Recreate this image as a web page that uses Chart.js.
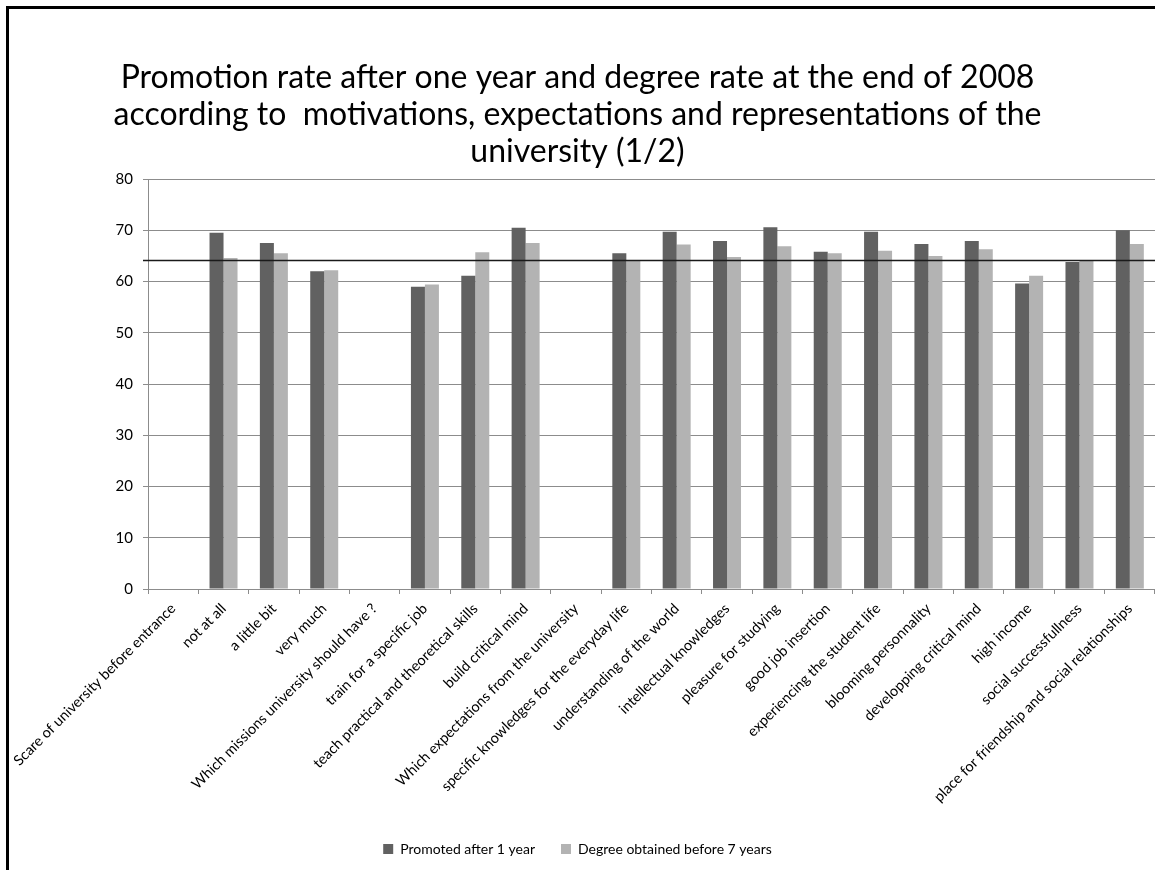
<!DOCTYPE html>
<html>
<head>
<meta charset="utf-8">
<script src="https://cdn.jsdelivr.net/npm/chart.js@4.4.1/dist/chart.umd.min.js"></script>
<style>
  html, body { margin: 0; padding: 0; background: #fff; }
  #wrap { position: relative; width: 1155px; height: 870px; }
</style>
</head>
<body>
<div id="wrap"><canvas id="PromotionChart" width="1155" height="870"></canvas></div>
<script>
// categories (x axis)
const categories = [
  "Scare of university before entrance",
  "not at all",
  "a little bit",
  "very much",
  "Which missions university should have ?",
  "train for a specific job",
  "teach practical and theoretical skills",
  "build critical mind",
  "Which expectations from the university",
  "specific knowledges for the everyday life",
  "understanding of the world",
  "intellectual knowledges",
  "pleasure for studying",
  "good job insertion",
  "experiencing the student life",
  "blooming personnality",
  "developping critical mind",
  "high income",
  "social successfullness",
  "place for friendship and social relationships"
];
// series values (%), null = heading rows without bars
const promoted = [null, 69.5, 67.5, 62.0, null, 59.0, 61.1, 70.5, null, 65.5, 69.7, 67.9, 70.6, 65.8, 69.7, 67.3, 67.9, 59.6, 63.8, 70.0];
const degree = [null, 64.6, 65.5, 62.2, null, 59.4, 65.7, 67.5, null, 64.0, 67.2, 64.8, 66.9, 65.5, 66.0, 65.0, 66.3, 61.1, 64.2, 67.3];
// overall rate drawn as a horizontal line
const overallRate = 64.1;
// y ticks
const yMin = 0, yMax = 80, yStep = 10;

const FONT = "Lato, 'Open Sans', 'Liberation Sans', sans-serif";

// white background + frame on top and left
const framePlugin = {
  id: "frame",
  beforeDraw(chart) {
    const ctx = chart.ctx;
    ctx.save();
    ctx.fillStyle = "#fff";
    ctx.fillRect(0, 0, chart.width, chart.height);
    ctx.strokeStyle = "#000";
    ctx.lineWidth = 3;
    ctx.beginPath();
    ctx.moveTo(7.5, chart.height);
    ctx.lineTo(7.5, 7.5);
    ctx.lineTo(chart.width, 7.5);
    ctx.stroke();
    ctx.restore();
  }
};

// the black line for overall rate, on top of bars
const avgLinePlugin = {
  id: "avgLine",
  afterDatasetsDraw(chart) {
    const y = Math.round(chart.scales.y.getPixelForValue(overallRate)) + 0.5;
    const ctx = chart.ctx;
    ctx.save();
    ctx.strokeStyle = "#1a1a1a";
    ctx.lineWidth = 1.5;
    ctx.beginPath();
    ctx.moveTo(chart.chartArea.left - 5, y);
    ctx.lineTo(chart.width, y);
    ctx.stroke();
    ctx.restore();
  }
};

const ctx = document.getElementById("PromotionChart").getContext("2d");
const myChart = new Chart(ctx, {
  type: "bar",
  data: {
    labels: categories,
    datasets: [
      {
        label: "Promoted after 1 year",
        data: promoted,
        backgroundColor: "#616161",
        borderWidth: 0
      },
      {
        label: "Degree obtained before 7 years",
        data: degree,
        backgroundColor: "#b3b3b3",
        borderWidth: 0
      }
    ]
  },
  options: {
    responsive: false,
    animation: false,
    devicePixelRatio: 1,
    datasets: {
      bar: { barPercentage: 1.0, categoryPercentage: 0.556 }
    },
    layout: { padding: { left: 0, right: 0, top: 0, bottom: 4 } },
    plugins: {
      title: {
        display: true,
        text: [
          "Promotion rate after one year and degree rate at the end of 2008",
          "according to  motivations, expectations and representations of the",
          "university (1/2)"
        ],
        color: "#000",
        font: { family: FONT, size: 32, weight: "normal", lineHeight: 37 / 32 },
        padding: { top: 59.5, bottom: 8.5 }
      },
      legend: {
        position: "bottom",
        labels: {
          boxWidth: 10,
          boxHeight: 10,
          padding: 26,
          color: "#000",
          font: { family: FONT, size: 14 }
        }
      },
      tooltip: { enabled: false }
    },
    scales: {
      x: {
        grid: {
          display: true,
          offset: true,
          drawOnChartArea: false,
          drawTicks: true,
          tickLength: 5,
          color: "#8c8c8c"
        },
        border: { color: "#8c8c8c" },
        ticks: {
          autoSkip: false,
          maxRotation: 45,
          minRotation: 45,
          padding: 6,
          color: "#000",
          font: { family: FONT, size: 14.5 }
        },
        afterFit(scale) { scale.height = 227; }
      },
      y: {
        min: yMin,
        max: yMax,
        ticks: {
          stepSize: yStep,
          padding: 10,
          color: "#000",
          font: { family: FONT, size: 15 }
        },
        grid: { color: "#8c8c8c", tickLength: 5 },
        border: { color: "#8c8c8c" },
        afterFit(scale) { scale.width = 148; }
      }
    }
  },
  plugins: [framePlugin, avgLinePlugin]
});
</script>
</body>
</html>
